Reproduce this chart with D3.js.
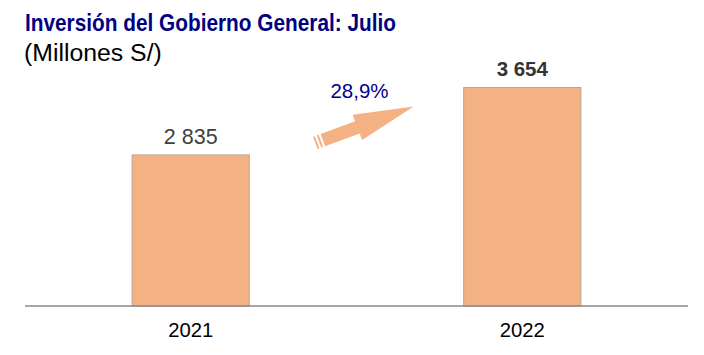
<!DOCTYPE html>
<html><head><meta charset="utf-8">
<script src="https://cdn.jsdelivr.net/npm/d3@7"></script>
<style>body{margin:0;background:#fff}svg{display:block}</style>
</head><body>
<svg id="c" width="704" height="355"></svg>
<script>
const categories = ["2021", "2022"];
const values = [2835, 3654];
const valueLabels = ["2 835", "3 654"];
const growthLabel = "28,9%";
const title = "Inversión del Gobierno General: Julio";
const subtitle = "(Millones S/)";

const svg = d3.select("#c");
const font = "'Liberation Sans', Arial, sans-serif";

const x = d3.scaleBand().domain(categories).range([25, 688]).paddingInner(0.6465).paddingOuter(0.323);
const y = d3.scaleLinear().domain([1000, 4000]).range([306, 59]);

svg.append("text").attr("x", 25).attr("y", 31).attr("font-family", font)
  .attr("font-weight", "bold").attr("font-size", 24).attr("fill", "#000080")
  .attr("textLength", 371).attr("lengthAdjust", "spacingAndGlyphs").text(title);
svg.append("text").attr("x", 24).attr("y", 61).attr("font-family", font)
  .attr("font-size", 24.8).attr("fill", "#000").text(subtitle);

svg.selectAll("rect.bar").data(categories).join("rect").attr("class", "bar")
  .attr("x", d => x(d)).attr("width", x.bandwidth())
  .attr("y", (d, i) => y(values[i])).attr("height", (d, i) => y.range()[0] - y(values[i]))
  .attr("fill", "#F4B183").attr("stroke", "#B8A596").attr("stroke-width", 1);

svg.append("line").attr("x1", 25).attr("x2", 688).attr("y1", 306).attr("y2", 306)
  .attr("stroke", "#888").attr("stroke-width", 1.3);

svg.selectAll("text.val").data(categories).join("text").attr("class", "val")
  .attr("x", d => x(d) + x.bandwidth() / 2).attr("y", (d, i) => y(values[i]) - 11)
  .attr("text-anchor", "middle").attr("font-family", font)
  .attr("font-size", (d, i) => i === 1 ? 20.5 : 21.5)
  .attr("font-weight", (d, i) => i === 1 ? "bold" : "normal")
  .attr("fill", (d, i) => i === 1 ? "#333" : "#404040")
  .text((d, i) => valueLabels[i]);

svg.selectAll("text.cat").data(categories).join("text").attr("class", "cat")
  .attr("x", d => x(d) + x.bandwidth() / 2).attr("y", 337)
  .attr("text-anchor", "middle").attr("font-family", font).attr("font-size", 20.3)
  .attr("fill", "#000").text(d => d);

// growth arrow between bars
const x0 = x(categories[0]) + x.bandwidth(), x1 = x(categories[1]);
const tail = [x0 + 66, y(values[0]) - 12];
const tip = [x1 - 50, y(values[1]) + 19];
const dx = tip[0] - tail[0], dy = tip[1] - tail[1];
const len = Math.hypot(dx, dy), ang = Math.atan2(dy, dx) * 180 / Math.PI;
const sw = 6.5, hw = 13.5, hl = 60;
const g = svg.append("g").attr("transform", `translate(${tail[0]},${tail[1]}) rotate(${ang})`);
g.append("path").attr("d", `M8,${-sw} L${len - hl},${-sw} L${len - hl},${-hw} L${len},0 L${len - hl},${hw} L${len - hl},${sw} L8,${sw} Z`)
  .attr("fill", "#F4B183");
g.append("rect").attr("x", 0).attr("y", -sw).attr("width", 2).attr("height", 2 * sw).attr("fill", "#F4B183");
g.append("rect").attr("x", 4).attr("y", -sw).attr("width", 2).attr("height", 2 * sw).attr("fill", "#F4B183");

svg.append("text").attr("x", (x0 + x1) / 2 + 3).attr("y", 98).attr("text-anchor", "middle")
  .attr("font-family", font).attr("font-size", 20.5).attr("fill", "#000090").text(growthLabel);
</script>
</body></html>
